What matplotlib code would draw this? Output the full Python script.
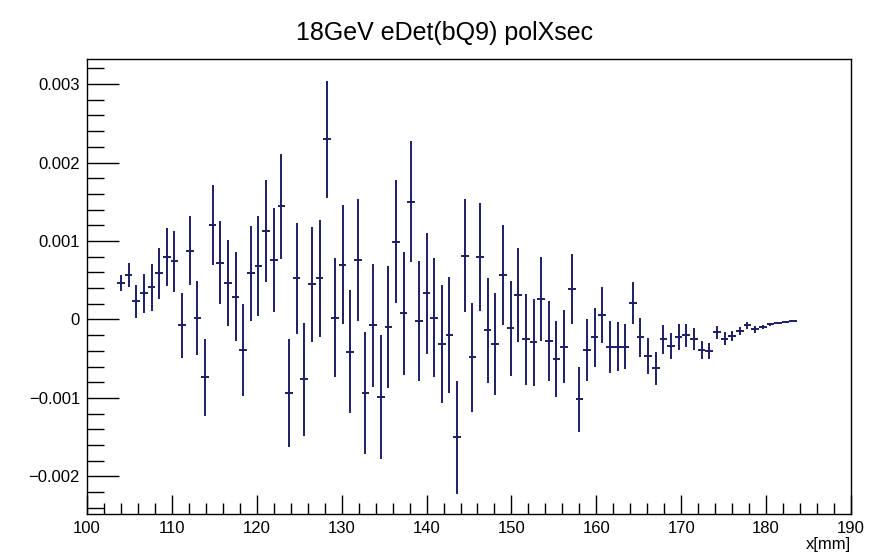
import matplotlib
matplotlib.use('Agg')
import matplotlib.pyplot as plt
from matplotlib.ticker import MultipleLocator
import numpy as np

# bin centres (0.9 mm bins starting at 104 mm)
x_start = 104.0
x_step = 0.9

# polXsec values and errors, in units of 1e-3
y_vals = [0.467, 0.565, 0.234, 0.331, 0.408, 0.586, 0.798, 0.743, -0.076, 0.875,
          0.021, -0.739, 1.21, 0.722, 0.467, 0.289, -0.391, 0.586, 0.684, 1.13,
          0.76, 1.444, -0.934, 0.522, -0.76, 0.446, 0.522, 2.297, 0.021, 0.70,
          -0.41, 0.76, -0.934, -0.076, -0.994, -0.093, 0.99, 0.076, 1.50, -0.02,
          0.331, 0.021, -0.31, -0.20, -1.50, 0.815, -0.484, 0.798, -0.136, -0.314,
          0.565, -0.115, 0.31, -0.255, -0.293, 0.259, -0.27, -0.505, -0.348, 0.386,
          -1.015, -0.39, -0.229, 0.055, -0.348, -0.348, -0.348, 0.212, -0.229, -0.463,
          -0.624, -0.255, -0.34, -0.22, -0.204, -0.25, -0.39, -0.40, -0.166, -0.246,
          -0.208, -0.149, -0.076, -0.127, -0.10, -0.064, -0.05, -0.038, -0.02]
y_errs = [0.10, 0.153, 0.21, 0.25, 0.30, 0.33, 0.37, 0.39, 0.41, 0.44,
          0.47, 0.49, 0.51, 0.53, 0.55, 0.57, 0.59, 0.61, 0.64, 0.65,
          0.66, 0.67, 0.69, 0.71, 0.72, 0.73, 0.74, 0.745, 0.756, 0.76,
          0.78, 0.775, 0.775, 0.78, 0.79, 0.775, 0.785, 0.785, 0.77, 0.77,
          0.77, 0.76, 0.755, 0.74, 0.72, 0.72, 0.70, 0.69, 0.67, 0.65,
          0.64, 0.61, 0.60, 0.58, 0.55, 0.535, 0.51, 0.486, 0.465, 0.446,
          0.414, 0.395, 0.376, 0.36, 0.333, 0.314, 0.29, 0.27, 0.25, 0.23,
          0.21, 0.18, 0.17, 0.165, 0.15, 0.14, 0.12, 0.105, 0.087, 0.08,
          0.064, 0.05, 0.04, 0.04, 0.026, 0.02, 0.012, 0.008, 0.005]

y = np.array(y_vals) * 1e-3
yerr = np.array(y_errs) * 1e-3
x = x_start + x_step * np.arange(len(y))

plt.rcParams['font.family'] = ['Liberation Sans', 'DejaVu Sans']

fig = plt.figure(figsize=(8.89, 5.53), dpi=100)
ax = fig.add_axes([87/889, 1 - 514/553, (851 - 87)/889, (514 - 59)/553])

ax.errorbar(x, y, xerr=x_step/2, yerr=yerr, fmt='none', ecolor='#1e1e66',
            elinewidth=1.4, capsize=0)

ax.set_xlim(100, 190)
ax.set_ylim(-0.00248, 0.00332)

ax.xaxis.set_major_locator(MultipleLocator(10))
ax.xaxis.set_minor_locator(MultipleLocator(2))
ax.yaxis.set_major_locator(MultipleLocator(0.001))
ax.yaxis.set_minor_locator(MultipleLocator(0.0002))
ax.yaxis.set_major_formatter(plt.FuncFormatter(
    lambda v, p: '0' if abs(v) < 1e-9 else ('%.3f' % v).replace('-', '\u2212')))

ax.tick_params(axis='x', which='major', direction='in', length=14, width=1,
               labelsize=12, pad=5, top=False)
ax.tick_params(axis='x', which='minor', direction='in', length=8, width=1, top=False)
ax.tick_params(axis='y', which='major', direction='in', length=23, width=1,
               labelsize=12, pad=5, right=False)
ax.tick_params(axis='y', which='minor', direction='in', length=12, width=1, right=False)

for s in ax.spines.values():
    s.set_linewidth(1.0)

ax.set_xlabel('x[mm]', fontsize=12, loc='right', labelpad=1)
fig.text(0.5, 1 - 33/553, '18GeV eDet(bQ9) polXsec', ha='center', va='center',
         fontsize=18)

fig.savefig('out.png', dpi=100)
